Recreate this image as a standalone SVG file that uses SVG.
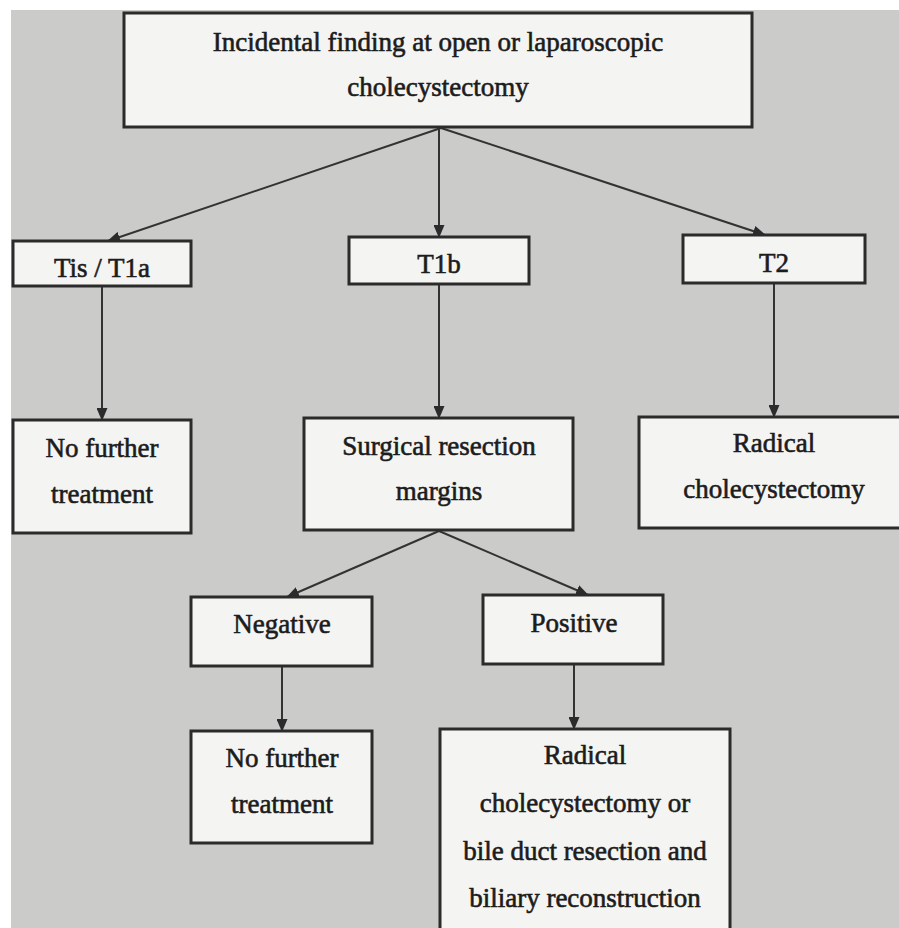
<svg xmlns="http://www.w3.org/2000/svg" width="899" height="928" viewBox="0 0 899 928">
<style>
.box{fill:#f4f4f2;stroke:#2b2b2b;stroke-width:3}
.t{font-family:"Liberation Serif","Times New Roman",serif;font-size:27px;fill:#1c1c1c;text-anchor:middle;stroke:#1c1c1c;stroke-width:0.6}
.c{stroke:#333;stroke-width:2;fill:none;marker-end:url(#ah)}
</style>
<defs>
<marker id="ah" markerUnits="userSpaceOnUse" markerWidth="13" markerHeight="11" refX="12" refY="5.5" orient="auto">
<path d="M0,0 L13,5.5 L0,11 z" fill="#2b2b2b"/>
</marker>
</defs>
<rect x="0" y="0" width="899" height="928" fill="#ffffff"/>
<rect x="11" y="10" width="900" height="930" fill="#cbcbc9"/>
<g id="connectors">
<line class="c" x1="441" y1="128" x2="108" y2="241"/>
<line class="c" x1="439" y1="128" x2="439" y2="237"/>
<line class="c" x1="441" y1="128" x2="765" y2="235"/>
<line class="c" x1="102" y1="287" x2="102" y2="420"/>
<line class="c" x1="439" y1="285" x2="439" y2="418"/>
<line class="c" x1="774" y1="284" x2="774" y2="417"/>
<line class="c" x1="439" y1="531" x2="287" y2="597"/>
<line class="c" x1="439" y1="531" x2="588" y2="595"/>
<line class="c" x1="282" y1="667" x2="282" y2="731"/>
<line class="c" x1="574" y1="665" x2="574" y2="729"/>
</g>
<g id="n-top">
<rect class="box" x="124" y="13" width="628" height="114"/>
<text class="t" x="438" y="51">Incidental finding at open or laparoscopic</text>
<text class="t" x="438" y="96">cholecystectomy</text>
</g>
<g id="n-tis">
<rect class="box" x="13" y="241" width="178" height="45"/>
<text class="t" x="102" y="277">Tis / T1a</text>
</g>
<g id="n-t1b">
<rect class="box" x="349" y="237" width="180" height="47"/>
<text class="t" x="439" y="273">T1b</text>
</g>
<g id="n-t2">
<rect class="box" x="683" y="235" width="182" height="48"/>
<text class="t" x="774" y="272">T2</text>
</g>
<g id="n-nofurther1">
<rect class="box" x="13" y="420" width="178" height="113"/>
<text class="t" x="102" y="457">No further</text>
<text class="t" x="102" y="503">treatment</text>
</g>
<g id="n-surgical">
<rect class="box" x="304" y="418" width="269" height="112"/>
<text class="t" x="439" y="455">Surgical resection</text>
<text class="t" x="439" y="500">margins</text>
</g>
<g id="n-radical1">
<rect class="box" x="639" y="417" width="270" height="111"/>
<text class="t" x="774" y="452">Radical</text>
<text class="t" x="774" y="498">cholecystectomy</text>
</g>
<g id="n-negative">
<rect class="box" x="191" y="597" width="181" height="69"/>
<text class="t" x="282" y="633">Negative</text>
</g>
<g id="n-positive">
<rect class="box" x="483" y="595" width="180" height="69"/>
<text class="t" x="574" y="632">Positive</text>
</g>
<g id="n-nofurther2">
<rect class="box" x="191" y="731" width="181" height="112"/>
<text class="t" x="282" y="767">No further</text>
<text class="t" x="282" y="813">treatment</text>
</g>
<g id="n-radical2">
<rect class="box" x="440" y="729" width="290" height="210"/>
<text class="t" x="585" y="764">Radical</text>
<text class="t" x="585" y="812">cholecystectomy or</text>
<text class="t" x="585" y="860">bile duct resection and</text>
<text class="t" x="585" y="907">biliary reconstruction</text>
</g>
</svg>
